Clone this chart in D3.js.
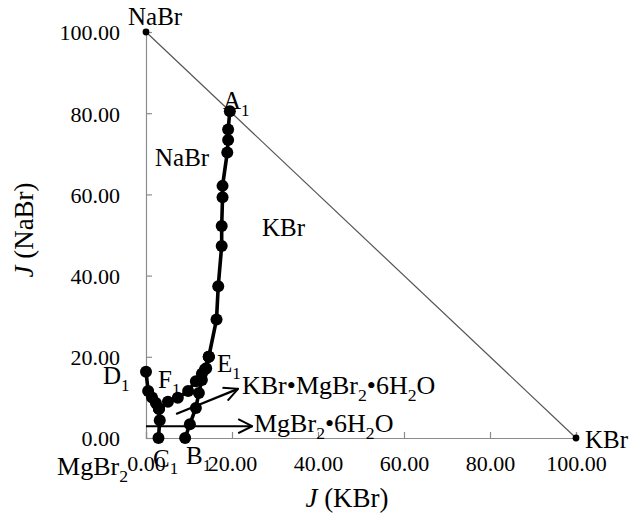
<!DOCTYPE html>
<html>
<head>
<script src="https://d3js.org/d3.v7.min.js"></script>
<style>
  body { margin: 0; background: #fff; }
  text { font-family: "Liberation Serif", "Times New Roman", serif; fill: #000; }
</style>
</head>
<body>
<svg id="chart" width="630" height="525"></svg>
<script>
// phase diagram branches, [J(KBr), J(NaBr)]
const branchDF = [[0, 16.3], [0.5, 11.6], [1.4, 10.0], [2.3, 8.6], [3.0, 7.2]];
const branchFC = [[3.0, 7.2], [3.2, 4.4], [2.9, 0]];
const branchFE = [[3.0, 7.2], [5.1, 8.9], [7.4, 9.9], [9.8, 11.6], [11.6, 14.0], [13.0, 15.8], [14.0, 17.2], [14.6, 20.0]];
const branchEB = [[14.6, 20.0], [13.7, 16.9], [13.0, 14.3], [12.3, 11.1], [11.6, 7.4], [10.2, 3.4], [9.1, 0]];
const branchEA = [[14.6, 20.0], [16.4, 29.2], [16.8, 37.4], [17.6, 47.3], [17.6, 52.2], [17.8, 59.3], [17.8, 62.1], [18.9, 70.3], [19.1, 73.4], [19.1, 76.0], [19.5, 80.5]];
const corners = [[0, 100], [100, 0]];
const tickVals = [0, 20, 40, 60, 80, 100];
const arrowKDouble = [[7.0, 5.9], [21.4, 12.1]];
const arrowMg = [[0, 2.9], [24.7, 2.9]];

const svg = d3.select("#chart");
const x = d3.scaleLinear().domain([0, 100]).range([146, 576]);
const y = d3.scaleLinear().domain([0, 100]).range([438, 32]);
const fmt = d3.format(".2f");

// axes
const xAxis = svg.append("g").attr("transform", "translate(0,438)")
  .call(d3.axisBottom(x).tickValues(tickVals).tickFormat(fmt).tickSize(-6).tickPadding(17));
const yAxis = svg.append("g").attr("transform", "translate(146,0)")
  .call(d3.axisLeft(y).tickValues(tickVals).tickFormat(fmt).tickSize(-6).tickPadding(26));
[xAxis, yAxis].forEach(a => {
  a.select(".domain").attr("stroke", "#8c8c8c").attr("stroke-width", 1.2);
  a.selectAll(".tick line").attr("stroke", "#8c8c8c").attr("stroke-width", 1.2);
  a.selectAll(".tick text").attr("font-size", 22).attr("font-family", "Liberation Serif");
});
yAxis.selectAll(".tick text").attr("dy", "0.36em");

// hypotenuse NaBr - KBr
svg.append("line")
  .attr("x1", x(corners[0][0])).attr("y1", y(corners[0][1]))
  .attr("x2", x(corners[1][0])).attr("y2", y(corners[1][1]))
  .attr("stroke", "#555").attr("stroke-width", 1.2);
svg.selectAll("circle.corner").data(corners).join("circle")
  .attr("class", "corner")
  .attr("cx", d => x(d[0])).attr("cy", d => y(d[1])).attr("r", 3.4).attr("fill", "#000");

// arrows
svg.append("defs").append("marker")
  .attr("id", "head").attr("viewBox", "0 0 16 16").attr("refX", 15).attr("refY", 8)
  .attr("markerWidth", 16).attr("markerHeight", 16).attr("markerUnits", "userSpaceOnUse")
  .attr("orient", "auto")
  .append("path").attr("d", "M1,1 L15,8 L1,15").attr("fill", "none")
  .attr("stroke", "#000").attr("stroke-width", 2);
[arrowKDouble, arrowMg].forEach(a => {
  svg.append("line")
    .attr("x1", x(a[0][0])).attr("y1", y(a[0][1]))
    .attr("x2", x(a[1][0])).attr("y2", y(a[1][1]))
    .attr("stroke", "#000").attr("stroke-width", 2.2)
    .attr("marker-end", "url(#head)");
});

// curves and points
const line = d3.line().x(d => x(d[0])).y(d => y(d[1]));
const branches = [branchDF, branchFC, branchFE, branchEB, branchEA];
svg.selectAll("path.branch").data(branches).join("path")
  .attr("class", "branch")
  .attr("d", line).attr("fill", "none").attr("stroke", "#000")
  .attr("stroke-width", 3.6).attr("stroke-linejoin", "round");
svg.selectAll("g.pts").data(branches).join("g").attr("class", "pts")
  .selectAll("circle").data(d => d).join("circle")
  .attr("cx", d => x(d[0])).attr("cy", d => y(d[1])).attr("r", 6).attr("fill", "#000");

// text with subscripts
function addText(px, py, parts, size, anchor) {
  const t = svg.append("text").attr("x", px).attr("y", py).attr("font-size", size)
    .attr("text-anchor", anchor || "start");
  let down = false;
  parts.forEach(p => {
    const ts = t.append("tspan").text(p[0]);
    if (p[1]) {
      ts.attr("font-size", size * 0.68).attr("dy", down ? 0 : size * 0.28);
      down = true;
    } else if (down) {
      ts.attr("dy", -size * 0.28);
      down = false;
    }
  });
  return t;
}
const S = 25;
addText(128, 25, [["NaBr"]], S);
addText(223, 109, [["A"], ["1", 1]], S);
addText(155, 166, [["NaBr"]], S);
addText(262, 236, [["KBr"]], S);
addText(103, 384, [["D"], ["1", 1]], S);
addText(158, 388, [["F"], ["1", 1]], S);
addText(217, 372, [["E"], ["1", 1]], S);
addText(153, 467, [["C"], ["1", 1]], S);
addText(186, 464, [["B"], ["1", 1]], S);
addText(128, 475, [["MgBr"], ["2", 1]], 26, "end");
addText(585, 448, [["KBr"]], S);
addText(242, 394, [["KBr•MgBr"], ["2", 1], ["•6H"], ["2", 1], ["O"]], 26);
addText(254, 432, [["MgBr"], ["2", 1], ["•6H"], ["2", 1], ["O"]], 26);

// axis titles
const xt = svg.append("text").attr("x", 347).attr("y", 507).attr("text-anchor", "middle").attr("font-size", 27);
xt.append("tspan").attr("font-style", "italic").text("J");
xt.append("tspan").text(" (KBr)");
const yt = svg.append("text").attr("transform", "translate(33,230) rotate(-90)")
  .attr("text-anchor", "middle").attr("font-size", 27);
yt.append("tspan").attr("font-style", "italic").text("J");
yt.append("tspan").text(" (NaBr)");
</script>
</body>
</html>
